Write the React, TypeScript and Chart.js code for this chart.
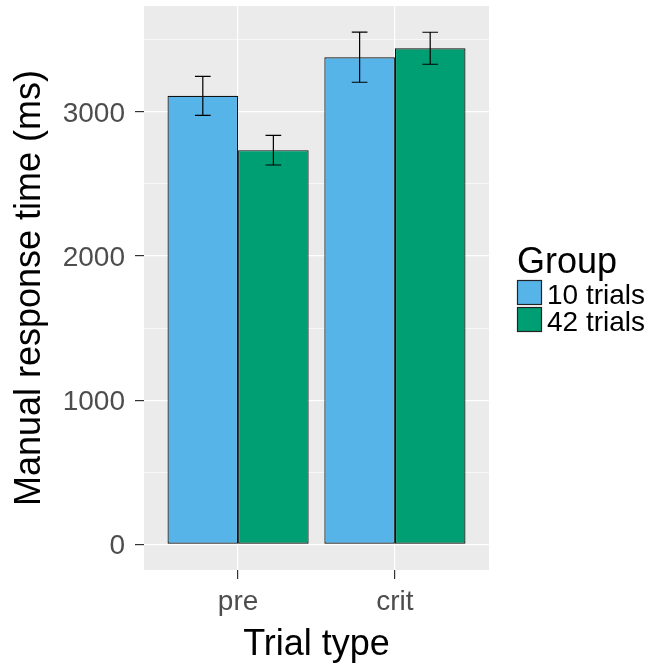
import React, { useEffect, useRef } from 'react';
import { Chart, registerables } from 'chart.js';

Chart.register(...registerables);

// Trial types on the x axis and the two participant groups
const categories = ['pre', 'crit'];
const groups = ['10 trials', '42 trials'];

// Mean manual response time (ms) and its standard error, per trial type
const means10 = [3111, 3379];
const means42 = [2734, 3441];
const se10 = [135, 174];
const se42 = [103, 111];

// Y gridlines every 500 ms; labels only on the thousands
const yTicks = [0, 500, 1000, 1500, 2000, 2500, 3000, 3500];

const groupColors = ['#56B4E9', '#009E73'];
const FONT = "'Liberation Sans', Arial, Helvetica, sans-serif";
const PANEL_BG = '#EBEBEB';
const WHISKER_WIDTH = 0.1; // in category units

const panelBackground = {
  id: 'panelBackground',
  beforeDraw(chart: any) {
    const { ctx, chartArea } = chart;
    ctx.save();
    ctx.fillStyle = PANEL_BG;
    ctx.fillRect(chartArea.left, chartArea.top, chartArea.right - chartArea.left, chartArea.bottom - chartArea.top);
    ctx.restore();
  },
};

const errorBars = {
  id: 'errorBars',
  afterDatasetsDraw(chart: any) {
    const { ctx } = chart;
    const xScale = chart.scales.x;
    const yScale = chart.scales.y;
    const half = xScale.getPixelForValue(1 + WHISKER_WIDTH / 2) - xScale.getPixelForValue(1);
    ctx.save();
    ctx.strokeStyle = '#000';
    ctx.lineWidth = 1.2;
    chart.data.datasets.forEach((ds: any, di: number) => {
      const meta = chart.getDatasetMeta(di);
      meta.data.forEach((bar: any, i: number) => {
        const m = ds.data[i].y;
        const e = ds.errors[i];
        const yHi = yScale.getPixelForValue(m + e);
        const yLo = yScale.getPixelForValue(m - e);
        const x = bar.x;
        ctx.beginPath();
        ctx.moveTo(x, yHi);
        ctx.lineTo(x, yLo);
        ctx.moveTo(x - half, yHi);
        ctx.lineTo(x + half, yHi);
        ctx.moveTo(x - half, yLo);
        ctx.lineTo(x + half, yLo);
        ctx.stroke();
      });
    });
    ctx.restore();
  },
};

const groupLegend = {
  id: 'groupLegend',
  afterDraw(chart: any) {
    const { ctx } = chart;
    const left = 517.5;
    ctx.save();
    ctx.fillStyle = '#000';
    ctx.textAlign = 'left';
    ctx.textBaseline = 'alphabetic';
    ctx.font = `36px ${FONT}`;
    ctx.fillText('Group', 517, 273);
    ctx.font = `28px ${FONT}`;
    chart.data.datasets.forEach((ds: any, i: number) => {
      const top = 280.5 + i * 27;
      ctx.fillStyle = ds.backgroundColor;
      ctx.fillRect(left, top, 24, 24);
      ctx.strokeStyle = '#222';
      ctx.lineWidth = 1.2;
      ctx.strokeRect(left, top, 24, 24);
      ctx.fillStyle = '#000';
      ctx.fillText(ds.label, 547, top + 23);
    });
    ctx.restore();
  },
};

export default function App() {
  const canvasRef = useRef<HTMLCanvasElement | null>(null);

  useEffect(() => {
    if (!canvasRef.current) return;
    Chart.defaults.font.family = FONT;

    const datasets = [
      { label: groups[0], means: means10, errors: se10, color: groupColors[0] },
      { label: groups[1], means: means42, errors: se42, color: groupColors[1] },
    ].map((g) => ({
      label: g.label,
      data: categories.map((_, i) => ({ x: i + 1, y: g.means[i] })),
      errors: g.errors,
      backgroundColor: g.color,
      borderColor: '#111',
      borderWidth: 1.2,
      borderSkipped: false,
      categoryPercentage: 0.9,
      barPercentage: 1.0,
    }));

    const chart = new Chart(canvasRef.current, {
      type: 'bar',
      data: { datasets } as any,
      options: {
        animation: false,
        responsive: true,
        maintainAspectRatio: false,
        layout: { padding: { top: 6, right: 161, left: 0, bottom: 0 } },
        plugins: {
          legend: { display: false },
          tooltip: { enabled: false },
        },
        scales: {
          x: {
            type: 'linear',
            min: 0.4,
            max: 2.6,
            offset: false,
            afterBuildTicks: (s: any) => {
              s.ticks = categories.map((_, i) => ({ value: i + 1 }));
            },
            afterFit: (s: any) => {
              s.height = 96;
              s.paddingLeft = 0;
              s.paddingRight = 0;
            },
            ticks: {
              callback: (v: any) => categories[Math.round(v) - 1] ?? '',
              font: { size: 28 },
              color: '#4D4D4D',
              padding: 6,
              autoSkip: false,
              maxRotation: 0,
            },
            grid: {
              offset: false,
              color: '#FFFFFF',
              lineWidth: 1.2,
              tickColor: '#333333',
              tickLength: 9,
              tickWidth: 1.2,
            },
            border: { display: false },
            title: {
              display: true,
              text: 'Trial type',
              color: '#000',
              font: { size: 36, lineHeight: 1 },
              padding: { top: 0, bottom: 3 },
            },
          },
          y: {
            type: 'linear',
            min: -178,
            max: 3734,
            afterBuildTicks: (s: any) => {
              s.ticks = yTicks.map((v) => ({ value: v }));
            },
            afterFit: (s: any) => {
              s.width = 144;
              s.paddingTop = 0;
              s.paddingBottom = 0;
            },
            ticks: {
              callback: (v: any) => (v % 1000 === 0 ? String(v) : ''),
              font: { size: 28 },
              color: '#4D4D4D',
              padding: 10,
              labelOffset: 2,
            },
            grid: {
              color: '#FFFFFF',
              lineWidth: (ctx: any) => (ctx.tick && ctx.tick.value % 1000 === 0 ? 1.2 : 0.6),
              tickColor: (ctx: any) => (ctx.tick && ctx.tick.value % 1000 === 0 ? '#333333' : 'rgba(0,0,0,0)'),
              tickLength: 9,
              tickWidth: 1.2,
            },
            border: { display: false },
            title: {
              display: true,
              text: 'Manual response time (ms)',
              color: '#000',
              font: { size: 36, lineHeight: 1 },
              padding: { top: 12, bottom: 0 },
            },
          },
        },
      } as any,
      plugins: [panelBackground, errorBars, groupLegend],
    });

    return () => chart.destroy();
  }, []);

  return (
    <div style={{ position: 'fixed', left: 0, top: 0, width: 650, height: 666, background: '#fff' }}>
      <canvas ref={canvasRef} />
    </div>
  );
}
